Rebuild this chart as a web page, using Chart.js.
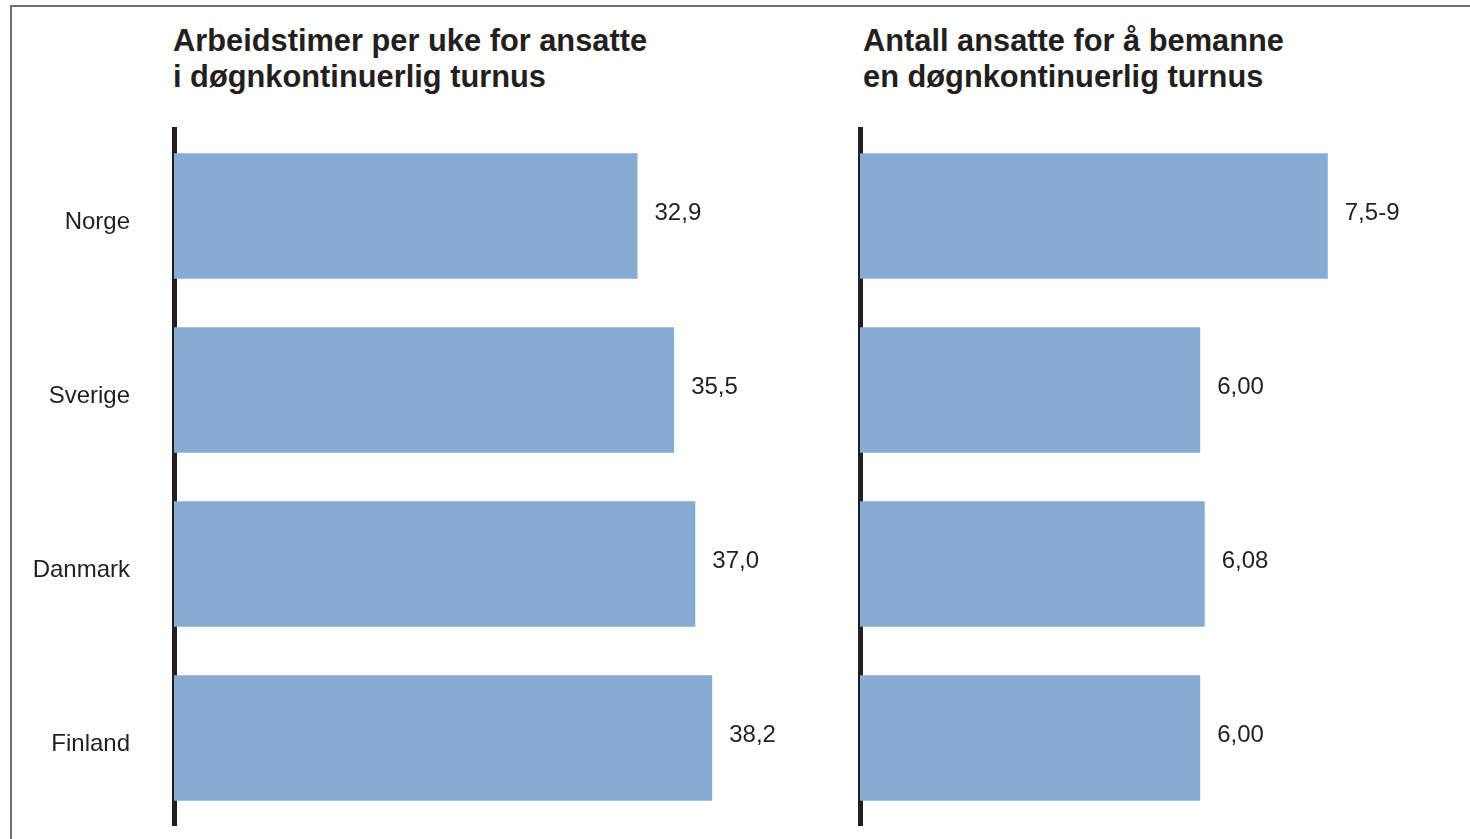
<!DOCTYPE html>
<html lang="no">
<head>
<meta charset="utf-8">
<title>Døgnkontinuerlig turnus i Norden</title>
<script src="https://cdn.jsdelivr.net/npm/chart.js@4.4.1/dist/chart.umd.min.js"></script>
<style>
    html, body {
        margin: 0;
        padding: 0;
        background: #fff;
        width: 1470px;
        height: 839px;
        overflow: hidden;
        font-family: "Liberation Sans", Arial, Helvetica, sans-serif;
    }
    .frame {
        position: absolute;
        left: 10px;
        top: 5px;
        right: 0;
        bottom: 0;
        border-top: 2px solid #707070;
        border-left: 2px solid #707070;
    }
    .panel-title {
        position: absolute;
        top: 23px;
        font-size: 30.8px;
        line-height: 36px;
        font-weight: bold;
        color: #231f20;
        white-space: nowrap;
    }
    canvas {
        position: absolute;
        top: 0;
    }
</style>
</head>
<body>
<div class="frame"></div>
<div class="panel-title" style="left: 173px;">Arbeidstimer per uke for ansatte<br>i døgnkontinuerlig turnus</div>
<div class="panel-title" style="left: 863px;">Antall ansatte for å bemanne<br>en døgnkontinuerlig turnus</div>
<canvas id="hoursChart" style="left: 0px;" width="808" height="839"></canvas>
<canvas id="staffChart" style="left: 840px;" width="587" height="839"></canvas>

<script>
// Data
const countries = ['Norge', 'Sverige', 'Danmark', 'Finland'];

const hoursPerWeek = [32.9, 35.5, 37.0, 38.2];
const hoursLabels = ['32,9', '35,5', '37,0', '38,2'];

// Norge is a range (7,5-9), drawn at its midpoint
const staffNeeded = [8.25, 6.00, 6.08, 6.00];
const staffLabels = ['7,5-9', '6,00', '6,08', '6,00'];

const hoursMax = 45;
const staffMax = 10;

const BAR_COLOR = '#87abd3';
const INK = '#231f20';
const FONT_FAMILY = '"Liberation Sans", Arial, Helvetica, sans-serif';

// draws the value text just right of each bar end
const valueLabels = {
    id: 'valueLabels',
    afterDatasetsDraw(chart, args, opts) {
        const ctx = chart.ctx;
        const meta = chart.getDatasetMeta(0);
        ctx.save();
        ctx.font = '24px ' + FONT_FAMILY;
        ctx.fillStyle = INK;
        ctx.textAlign = 'left';
        ctx.textBaseline = 'middle';
        meta.data.forEach((bar, i) => {
            ctx.fillText(opts.labels[i], bar.x + 17, bar.y - 3);
        });
        ctx.restore();
    }
};

function makeChart(canvasId, values, labels, max, showCategories, padLeft) {
    return new Chart(document.getElementById(canvasId), {
        type: 'bar',
        data: {
            labels: countries,
            datasets: [{
                data: values,
                backgroundColor: BAR_COLOR,
                borderWidth: 0,
                categoryPercentage: 1,
                barPercentage: 0.72
            }]
        },
        options: {
            indexAxis: 'y',
            responsive: false,
            animation: false,
            layout: {
                padding: { top: 129, bottom: 14, left: padLeft, right: 0 }
            },
            plugins: {
                legend: { display: false },
                tooltip: { enabled: false },
                valueLabels: { labels: labels }
            },
            scales: {
                x: {
                    display: false,
                    min: 0,
                    max: max
                },
                y: {
                    z: 1,
                    grid: { display: false, drawTicks: false },
                    border: { display: true, color: INK, width: 5 },
                    ticks: {
                        display: showCategories,
                        color: INK,
                        padding: 44,
                        labelOffset: 6,
                        font: { family: FONT_FAMILY, size: 24 }
                    },
                    afterFit: scale => {
                        // keep the label gap from eating into the plot height
                        scale.width = showCategories ? 174 : 0;
                        scale.paddingTop = 0;
                        scale.paddingBottom = 0;
                    }
                }
            }
        },
        plugins: [valueLabels]
    });
}

document.addEventListener('DOMContentLoaded', () => {
    makeChart('hoursChart', hoursPerWeek, hoursLabels, hoursMax, true, 0);
    makeChart('staffChart', staffNeeded, staffLabels, staffMax, false, 20);
});
</script>
</body>
</html>
